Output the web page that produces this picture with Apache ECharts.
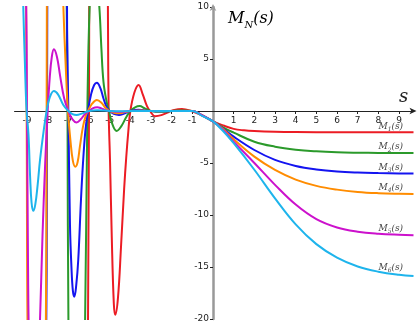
<!DOCTYPE html>
<html>
<head>
<meta charset="utf-8">
<script src="https://cdn.jsdelivr.net/npm/echarts@6/dist/echarts.min.js"></script>
<style>
  html, body { margin: 0; padding: 0; background: #fff; }
  #chart { width: 417px; height: 334px; }
</style>
</head>
<body>
<div id="chart"></div>
<script>
// tick labels
const xTicks = [-9, -8, -7, -6, -5, -4, -3, -2, -1, 1, 2, 3, 4, 5, 6, 7, 8, 9];

// curves, [s, M_N(s)]
const m1 = [[-6.1, -40], [-6.06, -25], [-6.0, 0], [-5.96, 25], [-5.5, 60], [-5.12, 20], [-5.08, 8], [-5.05, 0],
  [-4.98, -5], [-4.9, -12], [-4.8, -18.5], [-4.73, -19.6], [-4.6, -18], [-4.45, -13], [-4.3, -7.5], [-4.2, -4.5],
  [-4.1, -2], [-4.0, 0], [-3.8, 1.8], [-3.6, 2.5], [-3.4, 1.6], [-3.2, 0.5], [-3.05, 0], [-2.8, -0.5], [-2.5, -0.4],
  [-2.2, -0.15], [-2.05, 0], [-1.5, 0.2], [-1.05, 0], [-0.5, -0.45], [0, -1], [0.5, -1.4], [1, -1.72], [1.5, -1.86],
  [2, -1.93], [3, -2.0], [4, -2.03], [6, -2.05], [9.7, -2.05]];
const m2 = [[-9.6, 40], [-7.2, 30], [-7.1, 14], [-7.04, 0], [-6.99, -22], [-6.6, -60], [-6.2, -22], [-6.08, 0],
  [-5.95, 11], [-5.75, 16], [-5.5, 10], [-5.4, 6], [-5.3, 2.8], [-5.15, 0.9], [-5.03, 0], [-4.9, -1.1],
  [-4.66, -1.92], [-4.45, -1.5], [-4.2, -0.6], [-4.0, 0], [-3.75, 0.38], [-3.55, 0.47], [-3.3, 0.25], [-3.0, 0],
  [-2.5, -0.08], [-2.0, 0], [-1.5, 0.05], [-1.0, 0], [-0.5, -0.45], [0, -1], [0.5, -1.6], [1, -2.08], [2, -2.95],
  [3, -3.43], [4, -3.72], [5, -3.88], [6, -3.97], [7, -4.01], [8, -4.03], [9.7, -4.04]];
const m3 = [[-9.6, -40], [-8.1, -30], [-8.03, 0], [-7.97, 30], [-7.5, 60], [-7.1, 25], [-7.06, 8], [-7.0, 0],
  [-6.92, -11], [-6.85, -15], [-6.78, -17.3], [-6.71, -17.85], [-6.62, -16.8], [-6.52, -14.3], [-6.39, -8.6],
  [-6.3, -5.3], [-6.18, -2], [-6.05, 0], [-5.9, 1.6], [-5.75, 2.5], [-5.62, 2.72], [-5.45, 2.2], [-5.3, 1.2],
  [-5.15, 0.4], [-5.0, 0], [-4.8, -0.28], [-4.55, -0.38], [-4.3, -0.25], [-4.0, 0], [-3.6, 0.12], [-3.0, 0],
  [-2.5, -0.03], [-2.0, 0], [-1.0, 0], [-0.5, -0.45], [0, -1], [0.5, -1.7], [1, -2.47], [2, -3.75], [3, -4.7],
  [4, -5.28], [5, -5.62], [6, -5.82], [7, -5.92], [8, -5.97], [9, -6.0], [9.7, -6.02]];
const m4 = [[-9.6, 40], [-9.1, 20], [-9.02, 0], [-8.95, -25], [-8.5, -60], [-8.1, -25], [-8.05, 0], [-8.0, 25],
  [-7.6, 40], [-7.3, 15], [-7.24, 10], [-7.12, 4], [-7.02, 0], [-6.9, -2.8], [-6.78, -4.8], [-6.66, -5.35],
  [-6.55, -4.9], [-6.44, -3.4], [-6.3, -1.6], [-6.15, -0.4], [-6.05, 0], [-5.85, 0.7], [-5.62, 1.05], [-5.4, 0.8],
  [-5.2, 0.3], [-5.0, 0], [-4.8, -0.16], [-4.55, -0.22], [-4.3, -0.13], [-4.0, 0], [-3.5, 0.04], [-3.0, 0],
  [-1.0, 0], [-0.5, -0.45], [0, -1], [0.5, -1.75], [1, -2.72], [2, -4.39], [3, -5.67], [4, -6.6], [5, -7.2],
  [6, -7.56], [7, -7.78], [8, -7.9], [9, -7.96], [9.7, -7.98]];
const m5 = [[-9.6, 40], [-9.06, 12], [-9.0, 0], [-8.95, -15], [-8.9, -22], [-8.65, -35], [-8.37, -20],
  [-8.25, -12], [-8.12, -5], [-8.0, 0], [-7.9, 3.2], [-7.8, 5.2], [-7.7, 5.93], [-7.55, 5.2], [-7.4, 3.4],
  [-7.2, 1.2], [-7.0, 0], [-6.8, -0.8], [-6.6, -1.1], [-6.4, -0.8], [-6.2, -0.3], [-6.0, 0], [-5.8, 0.28],
  [-5.6, 0.35], [-5.4, 0.25], [-5.2, 0.08], [-5.0, 0], [-4.5, -0.08], [-4.0, 0], [-1.0, 0], [-0.5, -0.45], [0, -1],
  [0.5, -1.85], [1, -2.95], [2, -5.0], [3, -7.1], [4, -9.0], [5, -10.4], [6, -11.2], [7, -11.6], [8, -11.8],
  [9, -11.9], [9.7, -11.94]];
const m6 = [[-9.6, 40], [-9.25, 16], [-9.18, 10], [-9.1, 4.5], [-9.02, 0], [-8.93, -2.2], [-8.85, -6.3],
  [-8.78, -8.8], [-8.7, -9.6], [-8.6, -9.0], [-8.48, -7.0], [-8.37, -4.7], [-8.2, -2.0], [-8.05, 0], [-7.9, 1.3],
  [-7.7, 1.92], [-7.5, 1.6], [-7.25, 0.6], [-7.0, 0], [-6.8, -0.3], [-6.6, -0.38], [-6.35, -0.25], [-6.0, 0],
  [-5.6, 0.08], [-5.0, 0], [-4.5, -0.03], [-4.0, 0], [-1.0, 0], [-0.5, -0.5], [0, -1], [0.5, -1.95], [1, -3.1],
  [2, -5.65], [3, -8.4], [4, -10.9], [5, -12.8], [6, -14.1], [7, -14.95], [8, -15.45], [9, -15.75], [9.7, -15.87]];

const curves = [m1, m2, m3, m4, m5, m6];
const colors = ['#ec1c24', '#2b9a2b', '#1414f0', '#ff8c00', '#cc11cc', '#1eb4ec'];
const labelAt = 8.6;

const chart = echarts.init(document.getElementById('chart'));

const mathRich = {
  m: { fontFamily: 'DejaVu Serif', fontStyle: 'italic', fontSize: 9, color: '#444', lineHeight: 12, verticalAlign: 'middle' },
  n: { fontFamily: 'DejaVu Serif', fontStyle: 'italic', fontSize: 6, color: '#444', lineHeight: 12, verticalAlign: 'bottom' }
};

function yAt(data, x) {
  for (let i = 1; i < data.length; i++) {
    if (data[i][0] >= x) {
      const a = data[i - 1], b = data[i];
      return a[1] + (b[1] - a[1]) * (x - a[0]) / (b[0] - a[0]);
    }
  }
  return data[data.length - 1][1];
}

const series = curves.map((d, i) => ({
  type: 'line',
  data: d,
  showSymbol: false,
  smooth: 0.4,
  lineStyle: { color: colors[i], width: 2 },
  itemStyle: { color: colors[i] },
  z: 2,
  markPoint: {
    symbol: 'circle',
    symbolSize: 0,
    silent: true,
    data: [{ coord: [labelAt, yAt(d, labelAt)] }],
    label: {
      show: true,
      position: 'top',
      distance: 0,
      formatter: '{m|M}{n|' + (i + 1) + '}{m|(s)}',
      rich: mathRich
    }
  }
}));

let option = {
  animation: false,
  grid: { left: 14.6, right: 3.5, top: 7, bottom: 15, outerBoundsMode: 'none', containLabel: false },
  xAxis: {
    type: 'value',
    min: -9.6,
    max: 9.7,
    position: 'bottom',
    offset: -208,
    splitLine: { show: false },
    axisLine: {
      onZero: false,
      lineStyle: { color: '#222', width: 1.2 },
      symbol: ['none', 'arrow'],
      symbolSize: [5, 7],
      symbolOffset: [0, 3]
    },
    axisTick: { customValues: xTicks, length: 3, lineStyle: { color: '#222' } },
    axisLabel: { customValues: xTicks, fontSize: 9, color: '#222', margin: 5, fontFamily: 'DejaVu Sans' }
  },
  yAxis: {
    type: 'value',
    min: -20,
    max: 10,
    interval: 5,
    position: 'left',
    offset: -198.4,
    splitLine: { show: false },
    axisLine: {
      onZero: false,
      lineStyle: { color: '#999', width: 2.5 },
      symbol: ['none', 'arrow'],
      symbolSize: [5, 7],
      symbolOffset: [0, 3]
    },
    axisTick: { length: 3, lineStyle: { color: '#222' } },
    axisLabel: {
      fontSize: 9,
      color: '#222',
      margin: 4,
      fontFamily: 'DejaVu Sans',
      formatter: v => (v === 0 ? '' : String(v))
    }
  },
  graphic: [
    {
      type: 'text',
      left: 228,
      top: 11,
      style: {
        text: '{m|M}{n|N}{m|(s)}',
        rich: {
          m: { fontFamily: 'DejaVu Serif', fontStyle: 'italic', fontSize: 16, color: '#222', lineHeight: 22, verticalAlign: 'middle' },
          n: { fontFamily: 'DejaVu Serif', fontStyle: 'italic', fontSize: 10, color: '#222', lineHeight: 22, verticalAlign: 'bottom' }
        }
      }
    },
    {
      type: 'text',
      left: 399,
      top: 88,
      style: { text: 's', font: 'italic 18px "DejaVu Serif"', fill: '#222' }
    }
  ],
  series: series
};
chart.setOption(option);
</script>
</body>
</html>
